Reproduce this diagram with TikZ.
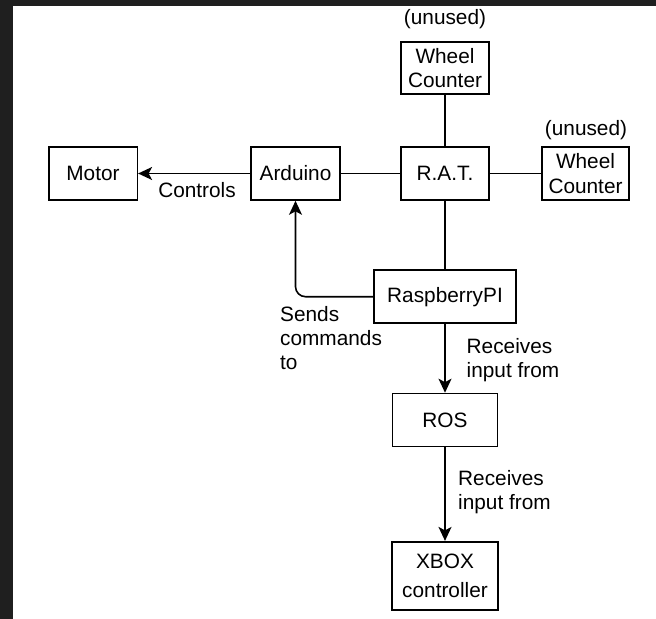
\documentclass[tikz,border=0pt]{standalone}
\usepackage{fontspec}
\setmainfont{Liberation Sans}
\usetikzlibrary{arrows.meta}
\definecolor{frame}{RGB}{31,31,31}
\begin{document}
\begin{tikzpicture}[x=1bp,y=-1bp,
  every node/.style={font=\fontsize{20.8bp}{24.4bp}\selectfont},
  box/.style={draw, line width=1.6bp, inner sep=0pt, align=center},
  lbl/.style={inner sep=0pt, align=left},
  conn/.style={line width=1.6bp},
  arr/.style={line width=1.6bp, -{Stealth[length=14bp,width=13bp,inset=3.5bp]}}]
\useasboundingbox (0,0) rectangle (656,619);
\fill[white] (0,0) rectangle (656,619);
\fill[frame] (0,0) rectangle (656,6);
\fill[frame] (0,0) rectangle (13,619);

\node[box, minimum width=88.6bp, minimum height=53bp] (motor) at (93,173.5) {Motor};
\node[box, minimum width=89bp, minimum height=53bp] (ard) at (295.5,173.5) {Arduino};
\node[box, minimum width=88bp, minimum height=53bp] (rat) at (445,173.5) {R.A.T.};
\node[box, minimum width=87bp, minimum height=53bp] (wcr) at (585.5,173.5) {Wheel\\Counter};
\node[box, minimum width=88bp, minimum height=52bp] (wct) at (445,68) {Wheel\\Counter};
\node[box, minimum width=142bp, minimum height=53bp] (rpi) at (445,296.7) {RaspberryPI};
\node[box, minimum width=105bp, minimum height=53bp] (ros) at (445,420) {ROS};
\node[box, minimum width=106bp, minimum height=68bp, font=\fontsize{20.8bp}{29bp}\selectfont] (xbox) at (445,575.7) {XBOX\\controller};

\node[lbl] (u1) at (445,19) {(unused)};
\node[lbl] (u2) at (586,130) {(unused)};
\node[lbl] (ctl) at (197,190) {Controls};
\node[lbl, anchor=west] (snd) at (280,338) {Sends\\commands\\to};
\node[lbl, anchor=west] (rc1) at (466.5,360) {Receives\\input from};
\node[lbl, anchor=west] (rc2) at (458,492) {Receives\\input from};

\draw[arr] (ard.west) -- (motor.east);
\draw[conn] (ard.east) -- (rat.west);
\draw[conn] (rat.east) -- (wcr.west);
\draw[conn] (wct.south) -- (rat.north);
\draw[conn] (rat.south) -- (rpi.north);
\draw[arr, rounded corners=10bp] (rpi.west) -| (ard.south);
\draw[arr] (rpi.south) -- (ros.north);
\draw[arr] (ros.south) -- (xbox.north);
\end{tikzpicture}
\end{document}
